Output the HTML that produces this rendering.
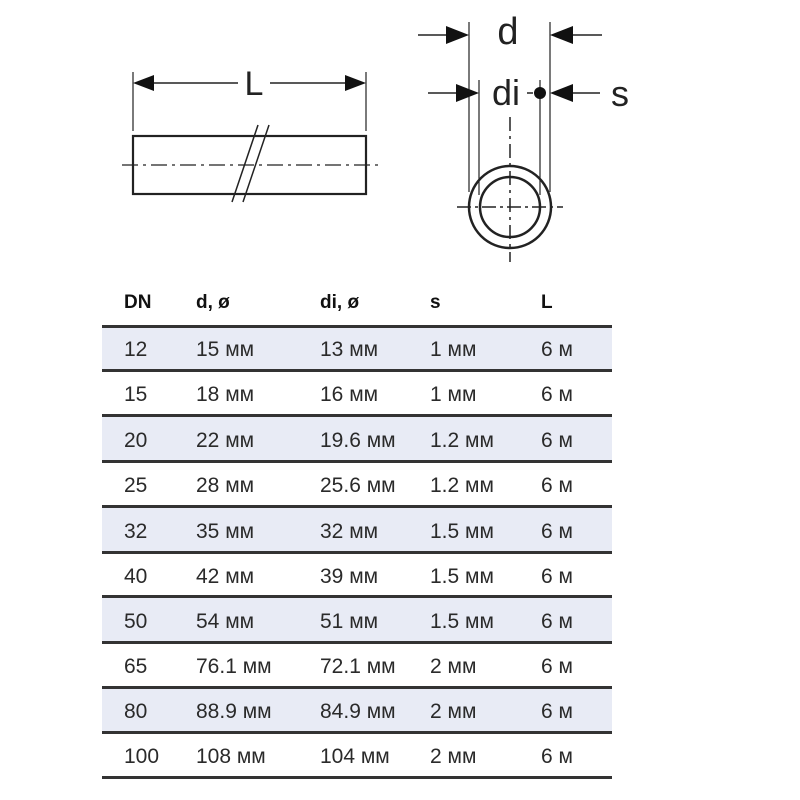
<!DOCTYPE html>
<html><head><meta charset="utf-8"><style>
html,body{margin:0;padding:0;background:#fff;}
body{width:800px;height:800px;position:relative;overflow:hidden;font-family:"Liberation Sans",sans-serif;}
.t{position:absolute;font-size:21px;color:#2a2a2a;line-height:1;}
.h{position:absolute;font-size:19px;font-weight:bold;color:#111;line-height:1;}
.row{position:absolute;left:102px;width:510px;}
.ln{position:absolute;left:102px;width:510px;height:3px;background:#333;}
</style></head><body>
<svg width="800" height="800" style="position:absolute;left:0;top:0">
<g stroke="#222" fill="none">
<!-- pipe -->
<rect x="133" y="136" width="233" height="58" stroke-width="2.2"/>
<line x1="122" y1="165" x2="378" y2="165" stroke-width="1.2" stroke-dasharray="16,5,3,5"/>
<line x1="133" y1="72" x2="133" y2="131" stroke-width="1.2"/>
<line x1="366" y1="72" x2="366" y2="131" stroke-width="1.2"/>
<line x1="150" y1="83" x2="238" y2="83" stroke-width="1.5"/>
<line x1="270" y1="83" x2="350" y2="83" stroke-width="1.5"/>
<line x1="258" y1="125" x2="232" y2="202" stroke-width="1.5"/>
<line x1="269" y1="125" x2="243" y2="202" stroke-width="1.5"/>
<!-- circle -->
<circle cx="510" cy="207" r="41" stroke-width="2.5"/>
<circle cx="510" cy="207" r="30" stroke-width="2.5"/>
<line x1="510" y1="117" x2="510" y2="262" stroke-width="1.5" stroke-dasharray="14,5,3,5"/>
<line x1="457" y1="207" x2="563" y2="207" stroke-width="1.5" stroke-dasharray="14,4,3,4"/>
<line x1="469" y1="22" x2="469" y2="192" stroke-width="1.2"/>
<line x1="550" y1="22" x2="550" y2="192" stroke-width="1.2"/>
<line x1="479" y1="80" x2="479" y2="195" stroke-width="1.2"/>
<line x1="540" y1="80" x2="540" y2="195" stroke-width="1.2"/>
<line x1="418" y1="35" x2="452" y2="35" stroke-width="1.5"/>
<line x1="567" y1="35" x2="602" y2="35" stroke-width="1.5"/>
<line x1="428" y1="93" x2="462" y2="93" stroke-width="1.5"/>
<line x1="557" y1="93" x2="600" y2="93" stroke-width="1.5"/>
<line x1="527" y1="93" x2="533" y2="93" stroke-width="1.5"/>
</g>
<g fill="#111">
<polygon points="133,83 154,75 154,91"/>
<polygon points="366,83 345,75 345,91"/>
<polygon points="469,35 446,26 446,44"/>
<polygon points="550,35 573,26 573,44"/>
<polygon points="479,93 456,84 456,102"/>
<polygon points="550,93 573,84 573,102"/>
<circle cx="540" cy="93" r="6"/>
</g>
<g font-family="Liberation Sans, sans-serif" fill="#222" text-anchor="middle">
<text x="254" y="95" font-size="34">L</text>
<text x="508" y="44" font-size="38">d</text>
<text x="506" y="105" font-size="36">di</text>
<text x="620" y="106" font-size="36">s</text>
</g>
</svg>

<div class="h" style="left:124px;top:293px">DN</div>
<div class="h" style="left:196px;top:293px">d, ø</div>
<div class="h" style="left:320px;top:293px">di, ø</div>
<div class="h" style="left:430px;top:293px">s</div>
<div class="h" style="left:541px;top:293px">L</div>

<div class="row" style="top:327px;height:43px;background:#e8ebf5"></div>
<div class="row" style="top:417px;height:44px;background:#e8ebf5"></div>
<div class="row" style="top:507px;height:45px;background:#e8ebf5"></div>
<div class="row" style="top:597px;height:45px;background:#e8ebf5"></div>
<div class="row" style="top:688px;height:44px;background:#e8ebf5"></div>

<div class="ln" style="top:325px"></div>
<div class="ln" style="top:369px"></div>
<div class="ln" style="top:414px"></div>
<div class="ln" style="top:460px"></div>
<div class="ln" style="top:505px"></div>
<div class="ln" style="top:551px"></div>
<div class="ln" style="top:595px"></div>
<div class="ln" style="top:641px"></div>
<div class="ln" style="top:686px"></div>
<div class="ln" style="top:731px"></div>
<div class="ln" style="top:776px"></div>

<div class="t" style="left:124px;top:339px">12</div><div class="t" style="left:196px;top:339px">15 мм</div><div class="t" style="left:320px;top:339px">13 мм</div><div class="t" style="left:430px;top:339px">1 мм</div><div class="t" style="left:541px;top:339px">6 м</div>
<div class="t" style="left:124px;top:384px">15</div><div class="t" style="left:196px;top:384px">18 мм</div><div class="t" style="left:320px;top:384px">16 мм</div><div class="t" style="left:430px;top:384px">1 мм</div><div class="t" style="left:541px;top:384px">6 м</div>
<div class="t" style="left:124px;top:430px">20</div><div class="t" style="left:196px;top:430px">22 мм</div><div class="t" style="left:320px;top:430px">19.6 мм</div><div class="t" style="left:430px;top:430px">1.2 мм</div><div class="t" style="left:541px;top:430px">6 м</div>
<div class="t" style="left:124px;top:475px">25</div><div class="t" style="left:196px;top:475px">28 мм</div><div class="t" style="left:320px;top:475px">25.6 мм</div><div class="t" style="left:430px;top:475px">1.2 мм</div><div class="t" style="left:541px;top:475px">6 м</div>
<div class="t" style="left:124px;top:521px">32</div><div class="t" style="left:196px;top:521px">35 мм</div><div class="t" style="left:320px;top:521px">32 мм</div><div class="t" style="left:430px;top:521px">1.5 мм</div><div class="t" style="left:541px;top:521px">6 м</div>
<div class="t" style="left:124px;top:566px">40</div><div class="t" style="left:196px;top:566px">42 мм</div><div class="t" style="left:320px;top:566px">39 мм</div><div class="t" style="left:430px;top:566px">1.5 мм</div><div class="t" style="left:541px;top:566px">6 м</div>
<div class="t" style="left:124px;top:611px">50</div><div class="t" style="left:196px;top:611px">54 мм</div><div class="t" style="left:320px;top:611px">51 мм</div><div class="t" style="left:430px;top:611px">1.5 мм</div><div class="t" style="left:541px;top:611px">6 м</div>
<div class="t" style="left:124px;top:656px">65</div><div class="t" style="left:196px;top:656px">76.1 мм</div><div class="t" style="left:320px;top:656px">72.1 мм</div><div class="t" style="left:430px;top:656px">2 мм</div><div class="t" style="left:541px;top:656px">6 м</div>
<div class="t" style="left:124px;top:701px">80</div><div class="t" style="left:196px;top:701px">88.9 мм</div><div class="t" style="left:320px;top:701px">84.9 мм</div><div class="t" style="left:430px;top:701px">2 мм</div><div class="t" style="left:541px;top:701px">6 м</div>
<div class="t" style="left:124px;top:746px">100</div><div class="t" style="left:196px;top:746px">108 мм</div><div class="t" style="left:320px;top:746px">104 мм</div><div class="t" style="left:430px;top:746px">2 мм</div><div class="t" style="left:541px;top:746px">6 м</div>
</body></html>
